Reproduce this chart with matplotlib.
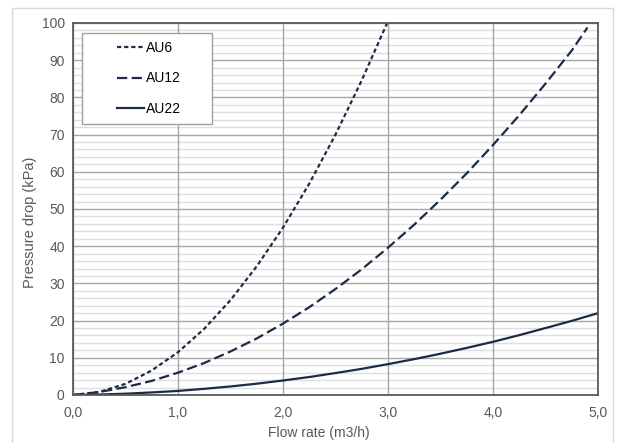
import matplotlib
matplotlib.use("Agg")
import matplotlib.pyplot as plt
from matplotlib.patches import Rectangle
from matplotlib.ticker import FixedLocator

plt.rcParams['font.family'] = ['Liberation Sans', 'DejaVu Sans']

# Data
flow_au6 = [0, 0.25, 0.5, 0.75, 1.0, 1.25, 1.5, 1.75, 2.0, 2.25, 2.5, 2.75, 3.0]
dp_au6 = [0, 0.8, 3.0, 6.6, 11.5, 17.8, 25.5, 34.6, 45.0, 56.8, 70.0, 84.6, 100.5]

flow_au12 = [0, 0.25, 0.5, 0.75, 1.0, 1.25, 1.5, 1.75, 2.0, 2.25, 2.5, 2.75, 3.0,
             3.25, 3.5, 3.75, 4.0, 4.25, 4.5, 4.75, 4.9]
dp_au12 = [0, 0.8, 2.1, 3.8, 6.0, 8.6, 11.7, 15.2, 19.2, 23.6, 28.5, 33.8, 39.6,
           45.8, 52.5, 59.6, 67.2, 75.2, 83.7, 92.6, 98.8]

flow_au22 = [0, 0.25, 0.5, 0.75, 1.0, 1.25, 1.5, 1.75, 2.0, 2.25, 2.5, 2.75, 3.0,
             3.25, 3.5, 3.75, 4.0, 4.25, 4.5, 4.75, 5.0]
dp_au22 = [0, 0.13, 0.35, 0.69, 1.1, 1.66, 2.3, 3.04, 3.9, 4.83, 5.9, 7.03, 8.3,
           9.64, 11.1, 12.66, 14.3, 16.09, 18.0, 19.93, 22.0]

series_labels = ["AU6", "AU12", "AU22"]
x_ticks = [0, 1, 2, 3, 4, 5]
x_tick_labels = ["0,0", "1,0", "2,0", "3,0", "4,0", "5,0"]
y_ticks = [0, 10, 20, 30, 40, 50, 60, 70, 80, 90, 100]
y_minor = [v for v in range(2, 100, 2) if v % 10 != 0]

line_color = "#1b2b48"
text_color = "#595959"

fig = plt.figure(figsize=(6.19, 4.43), dpi=100)
W, H = 619, 443
ax = fig.add_axes([73 / W, 1 - 395 / H, (598 - 73) / W, (395 - 23) / H])

# Figure border (light gray)
fig.patches.append(Rectangle((12 / W, -0.05), (613 - 12) / W, 1.05 - 8 / H,
                             transform=fig.transFigure, fill=False,
                             edgecolor="#d9d9d9", linewidth=1.0))

lw = 1.6
l1, = ax.plot(flow_au6, dp_au6, color=line_color, lw=lw, dashes=(1.9, 1.3),
              label=series_labels[0], zorder=3)
l2, = ax.plot(flow_au12, dp_au12, color=line_color, lw=lw, dashes=(4.6, 2.0),
              label=series_labels[1], zorder=3)
l3, = ax.plot(flow_au22, dp_au22, color=line_color, lw=lw,
              label=series_labels[2], zorder=3)

ax.set_xlim(0, 5)
ax.set_ylim(0, 100)
ax.xaxis.set_major_locator(FixedLocator(x_ticks))
ax.set_xticklabels(x_tick_labels)
ax.yaxis.set_major_locator(FixedLocator(y_ticks))

# minor horizontal grid lines (drawn beneath the major grid)
for v in y_minor:
    ax.axhline(v, color="#dedede", linewidth=1.0, zorder=0.3)
ax.set_axisbelow('line')
ax.grid(which='major', axis='both', color="#a6a6a6", linewidth=1.0)

ax.tick_params(axis='both', which='both', length=0, labelsize=10,
               labelcolor=text_color, pad=6)
ax.tick_params(axis='x', pad=8)
for s in ax.spines.values():
    s.set_color("#595959")
    s.set_linewidth(1.3)
    s.set_zorder(4)

ax.set_xlabel("Flow rate (m3/h)", fontsize=10, color=text_color)
ax.xaxis.set_label_coords((319 - 73) / 525, -(433 - 395) / 372)
ax.xaxis.label.set_verticalalignment('center')
ax.set_ylabel("Pressure drop (kPa)", fontsize=10.5, color=text_color)
ax.yaxis.set_label_coords(-(73 - 30) / 525, (395 - 222) / 372)
ax.yaxis.label.set_verticalalignment('center')

# Legend box
x0 = (82 - 73) / 525
x1 = (212 - 73) / 525
y1 = (395 - 33) / 372
y0 = (395 - 124) / 372
ax.add_patch(Rectangle((x0, y0), x1 - x0, y1 - y0, transform=ax.transAxes,
                       facecolor="white", edgecolor="#a0a0a0", linewidth=1.0,
                       zorder=5))
leg = ax.legend(handles=[l1, l2, l3], loc='center',
                bbox_to_anchor=((x0 + x1) / 2 + 0.004, (y0 + y1) / 2),
                frameon=False, fontsize=10, handlelength=1.95,
                handletextpad=0.15, labelspacing=1.2, borderpad=0)
leg.set_zorder(6)
for t in leg.get_texts():
    t.set_color("#000000")

fig.savefig("out.png", dpi=100)
